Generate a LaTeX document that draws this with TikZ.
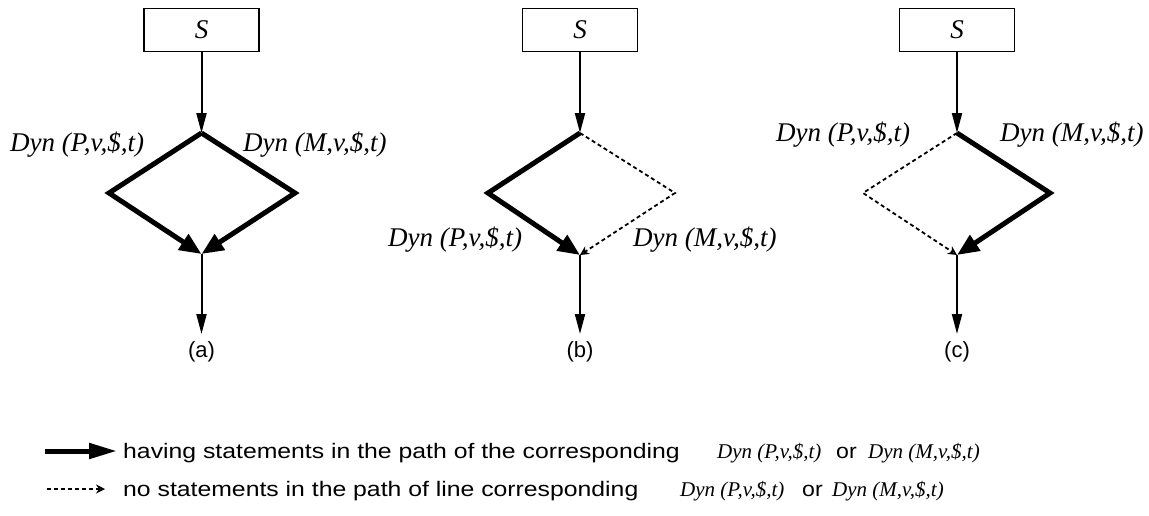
\documentclass[tikz,border=0pt]{standalone}
\usepackage{fontspec}
\usepackage{graphicx}
\setmainfont{Liberation Serif}
\setsansfont{Liberation Sans}
\usetikzlibrary{arrows.meta}
\begin{document}
\begin{tikzpicture}[x=1pt,y=-1pt,
 lab/.style={font=\fontsize{27}{31}\selectfont\itshape, inner sep=0pt, anchor=base west},
 leglab/.style={font=\fontsize{21}{25}\selectfont\itshape, inner sep=0pt, anchor=base west},
 legtxt/.style={font=\fontsize{21}{25}\selectfont\sffamily, inner sep=0pt, anchor=base west},
 capt/.style={font=\fontsize{22}{26}\selectfont\sffamily, inner sep=0pt},
 sbox/.style={draw, line width=1.5pt, minimum width=115pt, minimum height=43pt, inner sep=0pt, font=\fontsize{27}{31}\selectfont\itshape},
 tarrow/.style={line width=2pt, -{Triangle[length=20pt,width=10pt]}},
 harrow/.style={line width=5pt, -{Triangle[length=22pt,width=18pt]}},
 darrow/.style={line width=1.8pt, dash pattern=on 4pt off 3pt, -{Stealth[length=9pt,width=9pt,open]}},
]
\useasboundingbox (0,0) rectangle (1149,515);

% ---------- panel (a)
\node[sbox] (Sa) at (201.5,30) {S};
\coordinate (ta) at (201.5,133);
\coordinate (la) at (109,193);
\coordinate (ra) at (295,193);
\coordinate (ba) at (201.5,254);
\coordinate (ea) at (201.5,334);
\draw[tarrow] (Sa) -- (ta);
\draw[harrow] (ta) -- (la) -- (ba);
\draw[harrow] (ta) -- (ra) -- (ba);
\draw[tarrow] (ba) -- (ea);
\node[lab] (pa) at (10,151) {Dyn (P,v,\$,t)};
\node[lab] (ma) at (243,151) {Dyn (M,v,\$,t)};
\node[capt] (ca) at (201.5,352) {(a)};

% ---------- panel (b)
\node[sbox] (Sb) at (580,30) {S};
\coordinate (tb) at (580,133);
\coordinate (lb) at (488,193);
\coordinate (rb) at (675,193);
\coordinate (bb) at (580,255);
\coordinate (eb) at (580,334);
\draw[tarrow] (Sb) -- (tb);
\draw[harrow] (tb) -- (lb) -- (bb);
\draw[darrow] (tb) -- (rb) -- (bb);
\draw[tarrow] (bb) -- (eb);
\node[lab] (pb) at (388,246) {Dyn (P,v,\$,t)};
\node[lab] (mb) at (633,246) {Dyn (M,v,\$,t)};
\node[capt] (cb) at (580,352) {(b)};

% ---------- panel (c)
\node[sbox] (Sc) at (957,30) {S};
\coordinate (tc) at (957,133);
\coordinate (lc) at (863,193);
\coordinate (rc) at (1050,193);
\coordinate (bc) at (957,255);
\coordinate (ec) at (957,334);
\draw[tarrow] (Sc) -- (tc);
\draw[darrow] (tc) -- (lc) -- (bc);
\draw[harrow] (tc) -- (rc) -- (bc);
\draw[tarrow] (bc) -- (ec);
\node[lab] (pc) at (776,141) {Dyn (P,v,\$,t)};
\node[lab] (mc) at (1000,141) {Dyn (M,v,\$,t)};
\node[capt] (cc) at (957,352) {(c)};

% ---------- legend
\coordinate (l1a) at (45,451);
\coordinate (l1b) at (117,451);
\draw[line width=5pt, -{Triangle[length=28pt,width=15pt]}] (l1a) -- (l1b);
\node[legtxt] (t1) at (123,458) {\scalebox{1.18}[1]{having statements in the path of the corresponding}};
\node[leglab] (d1) at (717,458) {Dyn (P,v,\$,t)};
\node[legtxt] (o1) at (836,458) {\scalebox{1.1}[1]{or}};
\node[leglab] (e1) at (868,458) {Dyn (M,v,\$,t)};

\coordinate (l2a) at (47,489);
\coordinate (l2b) at (105,489);
\draw[darrow] (l2a) -- (l2b);
\node[legtxt] (t2) at (123,496) {\scalebox{1.18}[1]{no statements in the path of line corresponding}};
\node[leglab] (d2) at (680,496) {Dyn (P,v,\$,t)};
\node[legtxt] (o2) at (802,496) {\scalebox{1.1}[1]{or}};
\node[leglab] (e2) at (832,496) {Dyn (M,v,\$,t)};
\end{tikzpicture}
\end{document}
